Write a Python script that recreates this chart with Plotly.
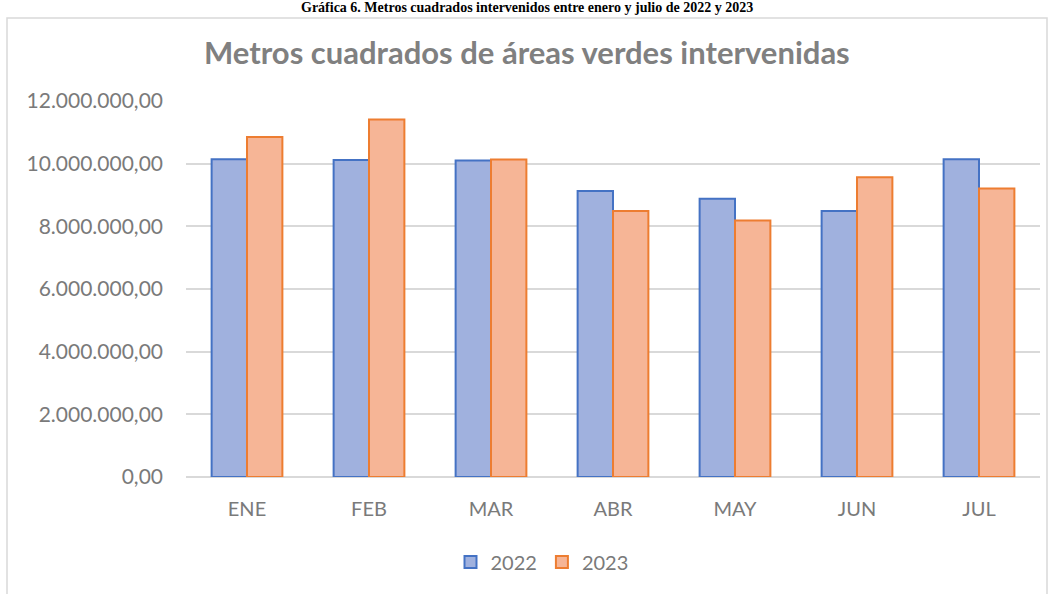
import plotly.graph_objects as go

months = ["ENE", "FEB", "MAR", "ABR", "MAY", "JUN", "JUL"]
series_names = ["2022", "2023"]
values_2022 = [10140000, 10120000, 10100000, 9130000, 8880000, 8490000, 10140000]
values_2023 = [10850000, 11410000, 10130000, 8490000, 8190000, 9570000, 9210000]
y_ticks = [0, 2000000, 4000000, 6000000, 8000000, 10000000, 12000000]

W, H = 1054, 594
L, R, T, B = 186, 1040, 101, 477  # plot area in pixels


def px_x(p):
    return (p - L) / (R - L)


def px_y(p):
    return (B - p) / (B - T)


FONT = "Lato, 'Open Sans', sans-serif"
GRAY = "#7a7a7a"

fig = go.Figure()
fig.add_trace(go.Bar(
    x=months, y=values_2022, name=series_names[0],
    marker=dict(color="#A0B1DE", line=dict(color="#4472C4", width=2)),
))
fig.add_trace(go.Bar(
    x=months, y=values_2023, name=series_names[1],
    marker=dict(color="#F6B596", line=dict(color="#ED7D31", width=2)),
))

fig.update_layout(
    width=W, height=H,
    margin=dict(l=L, r=W - R, t=T, b=H - B, pad=0),
    paper_bgcolor="white", plot_bgcolor="white",
    separators=",.",
    barmode="group", bargap=0.42, bargroupgap=0,
    font=dict(family=FONT, color=GRAY, size=18),
    showlegend=True,
    legend=dict(orientation="h", x=px_x(542), xanchor="center",
                y=px_y(562), yanchor="middle",
                font=dict(size=20, color=GRAY), itemwidth=30,
                traceorder="normal", bgcolor="rgba(0,0,0,0)"),
    xaxis=dict(showgrid=False, showline=False, ticks="",
               tickfont=dict(size=20, color=GRAY), ticklabelstandoff=18),
    yaxis=dict(range=[0, 12000000], tickvals=y_ticks, tickformat=",.2f",
               showgrid=True, gridcolor="#D9D9D9", gridwidth=1.5,
               zeroline=True, zerolinecolor="#D9D9D9", zerolinewidth=1.5,
               showline=False, ticks="",
               tickfont=dict(size=21, color=GRAY), ticklabelstandoff=22),
)

# Chart frame
fig.add_shape(type="rect", xref="paper", yref="paper",
              x0=px_x(7), x1=px_x(1047), y0=px_y(620), y1=px_y(18),
              line=dict(color="#D9D9D9", width=1.5), fillcolor="rgba(0,0,0,0)",
              layer="below")

# Chart title
fig.add_annotation(text="<b>Metros cuadrados de áreas verdes intervenidas</b>",
                   xref="paper", yref="paper", x=px_x(527), y=px_y(52),
                   xanchor="center", yanchor="middle", showarrow=False,
                   font=dict(family=FONT, size=31, color="#808080"))

# Caption above the chart frame
fig.add_annotation(text="<b>Gráfica 6. Metros cuadrados intervenidos entre enero y julio de 2022 y 2023</b>",
                   xref="paper", yref="paper", x=px_x(527), y=px_y(8),
                   xanchor="center", yanchor="middle", showarrow=False,
                   font=dict(family="'Liberation Serif', 'Times New Roman', serif", size=14, color="black"))

fig.write_html("out.html", config={"displayModeBar": False},
               post_script="document.body.style.margin='0';document.body.style.padding='0';")
